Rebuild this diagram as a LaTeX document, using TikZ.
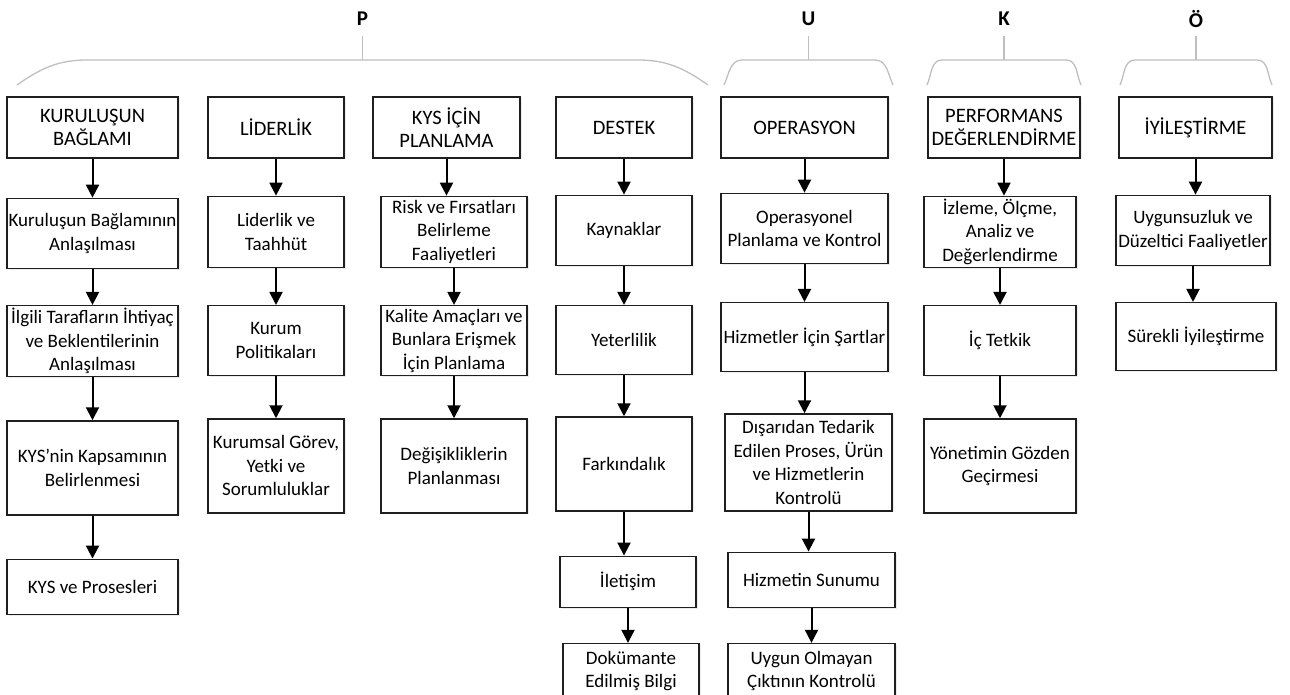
\documentclass[tikz,border=0pt]{standalone}
\usepackage{fontspec}
\setmainfont{Carlito}
\usetikzlibrary{arrows.meta, positioning, shadows}
\definecolor{braceGray}{HTML}{BFBFBF}
\definecolor{lineDark}{HTML}{1F1F1F}
\tikzset{
  stepBox/.style={rectangle, draw=lineDark, line width=1.3pt, fill=white,
                  align=center, font=\fontsize{19}{23.5}\selectfont, inner sep=1pt,
                  drop shadow={shadow xshift=1.5pt, shadow yshift=-1.5pt, opacity=0.15}},
  headBox/.style={stepBox, font=\fontsize{20.5}{23.5}\selectfont},
  arrowK/.style={-{Triangle[length=13pt, width=13pt]}, line width=2pt, black},
  braceG/.style={braceGray, line width=1.3pt},
  letter/.style={font=\fontsize{21}{24}\selectfont\bfseries, inner sep=0pt},
}

\begin{document}
\begin{tikzpicture}[x=1pt, y=1pt]
  \useasboundingbox (0,0) rectangle (1290,-695);

  % gruplama parantezleri
  \foreach \l/\r/\w/\o/\t [count=\n] in {17/708/70/35/P, 724/893/18/65/U,
      927/1081/15/65/K, 1120/1272/15/65/Ö} {
    \draw[braceG] (\l,-85) to[out=\o, in=180] ({\l+\w},-60)
      -- ({\r-\w},-60) to[out=0, in=180-\o] (\r,-85);
    \draw[braceG] ({(\l+\r)/2},-60) -- ++(0,24);
    \node[letter] (lbl\n) at ({(\l+\r)/2},-19) {\t};
  }

  % kuruluşun bağlamı
  \node[headBox, minimum width=171pt, minimum height=61pt] (k1) at (92.5,-127.5) {KURULUŞUN\\BAĞLAMI};
  \node[stepBox, minimum width=171pt, minimum height=70pt, below=39pt of k1] (k2) {Kuruluşun Bağlamının\\Anlaşılması};
  \node[stepBox, minimum width=171pt, minimum height=71pt, below=36pt of k2] (k3) {İlgili Tarafların İhtiyaç\\ve Beklentilerinin\\Anlaşılması};
  \node[stepBox, minimum width=171pt, minimum height=94pt, below=43pt of k3] (k4) {KYS’nin Kapsamının\\Belirlenmesi};
  \node[stepBox, minimum width=171pt, minimum height=55pt, below=43pt of k4] (k5) {KYS ve Prosesleri};

  % liderlik
  \node[headBox, minimum width=136pt, minimum height=61pt] (l1) at (276,-127.5) {LİDERLİK};
  \node[stepBox, minimum width=136pt, minimum height=71pt, below=37pt of l1] (l2) {Liderlik ve\\Taahhüt};
  \node[stepBox, minimum width=136pt, minimum height=70pt, below=37pt of l2] (l3) {Kurum\\Politikaları};
  \node[stepBox, minimum width=136pt, minimum height=94pt, below=42pt of l3] (l4) {Kurumsal Görev,\\Yetki ve\\Sorumluluklar};

  % planlama
  \node[headBox, minimum width=147pt, minimum height=61pt] (p1) at (446.5,-127.5) {KYS İÇİN\\PLANLAMA};
  \node[stepBox, minimum width=146pt, minimum height=71pt, below=37pt of p1, xshift=7.5pt] (p2) {Risk ve Fırsatları\\Belirleme\\Faaliyetleri};
  \node[stepBox, minimum width=146pt, minimum height=70pt, below=37pt of p2] (p3) {Kalite Amaçları ve\\Bunlara Erişmek\\İçin Planlama};
  \node[stepBox, minimum width=146pt, minimum height=94pt, below=42pt of p3] (p4) {Değişikliklerin\\Planlanması};

  % destek
  \node[headBox, minimum width=136pt, minimum height=61pt] (d1) at (624,-127.5) {DESTEK};
  \node[stepBox, minimum width=136pt, minimum height=70pt, below=36pt of d1] (d2) {Kaynaklar};
  \node[stepBox, minimum width=136pt, minimum height=69pt, below=39pt of d2] (d3) {Yeterlilik};
  \node[stepBox, minimum width=136pt, minimum height=94pt, below=41pt of d3] (d4) {Farkındalık};
  \node[stepBox, minimum width=136pt, minimum height=51pt, below=44pt of d4, xshift=4pt] (d5) {İletişim};
  \node[stepBox, minimum width=136pt, minimum height=55pt, below=35pt of d5, xshift=3pt] (d6) {Dokümante\\Edilmiş Bilgi};

  % operasyon
  \node[headBox, minimum width=167pt, minimum height=61pt] (o1) at (804.5,-127.5) {OPERASYON};
  \node[stepBox, minimum width=167pt, minimum height=70pt, below=34pt of o1] (o2) {Operasyonel\\Planlama ve Kontrol};
  \node[stepBox, minimum width=167pt, minimum height=69pt, below=38pt of o2] (o3) {Hizmetler İçin Şartlar};
  \node[stepBox, minimum width=167pt, minimum height=97pt, below=41pt of o3, xshift=4pt] (o4) {Dışarıdan Tedarik\\Edilen Proses, Ürün\\ve Hizmetlerin\\Kontrolü};
  \node[stepBox, minimum width=167pt, minimum height=55pt, below=40pt of o4, xshift=3pt] (o5) {Hizmetin Sunumu};
  \node[stepBox, minimum width=167pt, minimum height=55pt, below=35pt of o5] (o6) {Uygun Olmayan\\Çıktının Kontrolü};

  % performans
  \node[headBox, minimum width=152pt, minimum height=61pt] (e1) at (1004,-127.5) {PERFORMANS\\DEĞERLENDİRME};
  \node[stepBox, minimum width=152pt, minimum height=71pt, below=37pt of e1, xshift=-4pt] (e2) {İzleme, Ölçme,\\Analiz ve\\Değerlendirme};
  \node[stepBox, minimum width=152pt, minimum height=70pt, below=37pt of e2] (e3) {İç Tetkik};
  \node[stepBox, minimum width=152pt, minimum height=94pt, below=42pt of e3] (e4) {Yönetimin Gözden\\Geçirmesi};

  % iyileştirme
  \node[headBox, minimum width=153pt, minimum height=61pt] (i1) at (1195.5,-127.5) {İYİLEŞTİRME};
  \node[stepBox, minimum width=154pt, minimum height=70pt, below=36pt of i1, xshift=-2.5pt] (i2) {Uygunsuzluk ve\\Düzeltici Faaliyetler};
  \node[stepBox, minimum width=160pt, minimum height=68pt, below=36pt of i2, xshift=3pt] (i3) {Sürekli İyileştirme};

  % oklar
  \foreach \a/\b in {k1/k2, k2/k3, k3/k4, k4/k5, l1/l2, l2/l3, l3/l4,
      p1/p2, p2/p3, p3/p4, d1/d2, d2/d3, d3/d4, d4/d5, d5/d6,
      o1/o2, o2/o3, o3/o4, o4/o5, o5/o6, e1/e2, e2/e3, e3/e4, i1/i2, i2/i3}
    \draw[arrowK] (\a.south) -- (\a.south |- \b.north);
\end{tikzpicture}
\end{document}
